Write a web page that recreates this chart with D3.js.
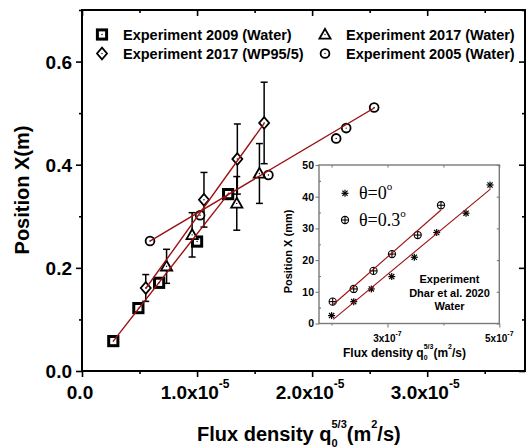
<!DOCTYPE html>
<html><head><meta charset="utf-8">
<script src="https://cdn.jsdelivr.net/npm/d3@7"></script>
<style>
html,body{margin:0;padding:0;background:#fff;}
svg{display:block;}
text{font-family:"Liberation Sans",Arial,sans-serif;font-weight:bold;fill:#000;}
</style></head>
<body><svg id="c" width="527" height="448"></svg>
<script>
// ---------- DATA (main chart, x in units of 1e-5 m^2/s, y in m) ----------
const sq2009X = [0.272, 0.49, 0.67, 1.0, 1.27];
const sq2009Y = [0.058, 0.122, 0.171, 0.251, 0.343];

const dm2017X = [0.554, 1.06, 1.35, 1.583];
const dm2017Y = [0.161, 0.332, 0.411, 0.481];
const dm2017Err = [0.026, 0.053, 0.068, 0.079];

const tr2017X = [0.735, 0.957, 1.345, 1.542];
const tr2017Y = [0.203, 0.264, 0.325, 0.383];
const tr2017Err = [0.033, 0.043, 0.052, 0.058];

const ci2005X = [0.591, 1.026, 1.62, 2.209, 2.296, 2.539];
const ci2005Y = [0.252, 0.302, 0.380, 0.451, 0.471, 0.511];

// fitted lines (end points)
const fitWaterX = [0.272, 1.28];  const fitWaterY = [0.058, 0.346];
const fitWPX = [0.554, 1.583];    const fitWPY = [0.160, 0.480];
const fit2005X = [0.591, 2.539];  const fit2005Y = [0.252, 0.510];

const legendLabels = ["Experiment 2009 (Water)", "Experiment 2017 (WP95/5)", "Experiment 2017 (Water)", "Experiment 2005 (Water)"];

const xMajor = [0, 1, 2, 3];
const xMajorLabels = ["0.0", "1.0x10", "2.0x10", "3.0x10"];
const xMajorExp = ["", "-5", "-5", "-5"];
const xMinor = [0.5, 1.5, 2.5, 3.5];
const yMajor = [0, 0.2, 0.4, 0.6];
const yMajorLabels = ["0.0", "0.2", "0.4", "0.6"];
const yMinor = [0.1, 0.3, 0.5, 0.7];

// ---------- DATA (inset, x in units of 1e-7 m^2/s, y in mm) ----------
const star0X = [2.0, 2.396, 2.711, 3.076, 3.48, 3.88, 4.405, 4.834];
const star0Y = [2.5, 6.9, 10.9, 14.8, 20.9, 28.7, 34.8, 43.7];
const circ03X = [2.02, 2.396, 2.75, 3.08, 3.54, 3.957];
const circ03Y = [6.9, 10.9, 16.6, 21.9, 27.9, 37.3];
const fitStarX = [2.03, 4.84];  const fitStarY = [1.3, 42.4];
const fitCircX = [2.03, 3.957]; const fitCircY = [6.0, 35.8];

const insetXMajor = [3, 5];
const insetXMajorLabels = ["3x10", "5x10"];
const insetXExp = ["-7", "-7"];
const insetXMinor = [2, 4];
const insetYMajor = [0, 10, 20, 30, 40, 50];
const insetYMinor = [5, 15, 25, 35, 45];
const insetNote = ["Experiment", "Dhar et al. 2020", "Water"];

// ---------- DRAW ----------
const svg = d3.select("#c");
const RED = "#9a1010";

const x = d3.scaleLinear().domain([0, 3.85]).range([82, 525]);
const y = d3.scaleLinear().domain([0, 0.7]).range([371, 10]);

// ticks
function tickAxis(axis, scale, vals, size, transform) {
  const g = svg.append("g").attr("transform", transform)
    .call(axis(scale).tickValues(vals).tickSize(size).tickFormat("").tickSizeOuter(0));
  g.select(".domain").remove();
  g.selectAll("line").attr("stroke", "#000").attr("stroke-width", 1.6);
  return g;
}
// bottom: outward
tickAxis(d3.axisBottom, x, xMajor, 6, "translate(0,371)");
tickAxis(d3.axisBottom, x, xMinor, 3, "translate(0,371)");
// top: inward
tickAxis(d3.axisBottom, x, xMajor, 6, "translate(0,10)");
tickAxis(d3.axisBottom, x, xMinor, 3, "translate(0,10)");
// left: outward
tickAxis(d3.axisLeft, y, yMajor, 6, "translate(82,0)");
tickAxis(d3.axisLeft, y, yMinor, 3, "translate(82,0)");
// right: inward
tickAxis(d3.axisLeft, y, yMajor, 6, "translate(525,0)");
tickAxis(d3.axisLeft, y, yMinor, 3, "translate(525,0)");

// frame
svg.append("rect").attr("x", x(0)).attr("y", y(0.7))
  .attr("width", x(3.85) - x(0)).attr("height", y(0) - y(0.7))
  .attr("fill", "none").attr("stroke", "#000").attr("stroke-width", 2);

// tick labels
xMajor.forEach((v, i) => {
  const t = svg.append("text").attr("x", x(v) - 2).attr("y", 399)
    .attr("text-anchor", "middle").style("font-size", "19px").text(xMajorLabels[i]);
  if (xMajorExp[i]) t.append("tspan").attr("dy", -11).style("font-size", "12px").text(xMajorExp[i]);
});
yMajor.forEach((v, i) => {
  svg.append("text").attr("x", 72).attr("y", y(v) + 7)
    .attr("text-anchor", "end").style("font-size", "19px").text(yMajorLabels[i]);
});

// axis titles
svg.append("text").attr("transform", "translate(29,190) rotate(-90)")
  .attr("text-anchor", "middle").style("font-size", "20px").text("Position X(m)");
const xt = svg.append("text").attr("x", 197).attr("y", 441).style("font-size", "20px");
xt.append("tspan").text("Flux density q");
xt.append("tspan").attr("dy", 6).style("font-size", "11px").text("0");
xt.append("tspan").attr("dx", -6.1).attr("dy", -19).style("font-size", "11px").text("5/3");
xt.append("tspan").attr("dy", 13).text("(m");
xt.append("tspan").attr("dy", -13).style("font-size", "11px").text("2");
xt.append("tspan").attr("dy", 13).text("/s)");

// markers
function marker(g, type, cx, cy) {
  const m = g.append("g").attr("transform", `translate(${cx},${cy})`);
  if (type === "square") {
    m.append("rect").attr("x", -4.6).attr("y", -4.6).attr("width", 9.2).attr("height", 9.2)
      .attr("fill", "#fff").attr("stroke", "#000").attr("stroke-width", 3);
  } else if (type === "diamond") {
    m.append("path").attr("d", "M0,-5.8L5,0L0,5.8L-5,0Z")
      .attr("fill", "#fff").attr("stroke", "#000").attr("stroke-width", 1.8);
  } else if (type === "triangle") {
    m.append("path").attr("d", "M0,-5.6L5.6,4.2L-5.6,4.2Z")
      .attr("fill", "#fff").attr("stroke", "#000").attr("stroke-width", 1.8);
  } else if (type === "circle") {
    m.append("circle").attr("r", 4.4)
      .attr("fill", "#fff").attr("stroke", "#000").attr("stroke-width", 1.8);
  }
  m.append("circle").attr("r", 0.7).attr("fill", "#000");
}
function errBars(xs, ys, es) {
  xs.forEach((v, i) => {
    const cx = x(v), y1 = y(ys[i] + es[i]), y2 = y(ys[i] - es[i]);
    const g = svg.append("g").attr("stroke", "#000").attr("stroke-width", 1.5);
    g.append("line").attr("x1", cx).attr("x2", cx).attr("y1", y1).attr("y2", y2);
    g.append("line").attr("x1", cx - 3.5).attr("x2", cx + 3.5).attr("y1", y1).attr("y2", y1);
    g.append("line").attr("x1", cx - 3.5).attr("x2", cx + 3.5).attr("y1", y2).attr("y2", y2);
  });
}
errBars(dm2017X, dm2017Y, dm2017Err);
errBars(tr2017X, tr2017Y, tr2017Err);

const mg = svg.append("g");
ci2005X.forEach((v, i) => marker(mg, "circle", x(v), y(ci2005Y[i])));
sq2009X.forEach((v, i) => marker(mg, "square", x(v), y(sq2009Y[i])));
tr2017X.forEach((v, i) => marker(mg, "triangle", x(v), y(tr2017Y[i])));
dm2017X.forEach((v, i) => marker(mg, "diamond", x(v), y(dm2017Y[i])));

// fit lines
function fitLine(xs, ys, sx, sy, w) {
  svg.append("path").datum(xs.map((v, i) => [v, ys[i]]))
    .attr("d", d3.line().x(d => sx(d[0])).y(d => sy(d[1])))
    .attr("fill", "none").attr("stroke", RED).attr("stroke-width", w);
}
fitLine(fitWaterX, fitWaterY, x, y, 1.4);
fitLine(fitWPX, fitWPY, x, y, 1.4);
fitLine(fit2005X, fit2005Y, x, y, 1.4);

// legend
const lg = svg.append("g");
const legPos = [[102, 34.5, "square"], [102, 53.5, "diamond"], [325, 34.5, "triangle"], [325, 53.5, "circle"]];
legendLabels.forEach((lab, i) => {
  const [lx, ly, tp] = legPos[i];
  marker(lg, tp, lx, ly);
  lg.append("text").attr("x", lx + 21).attr("y", ly + 5).style("font-size", "14.5px").text(lab);
});

// ---------- INSET ----------
const ix = d3.scaleLinear().domain([1.775, 5.0]).range([319, 499.3]);
const iy = d3.scaleLinear().domain([0, 50]).range([323.5, 165]);
const GRAY = "#7a7a7a";
svg.append("rect").attr("x", ix(1.775)).attr("y", iy(50)).attr("width", ix(5) - ix(1.775))
  .attr("height", iy(0) - iy(50)).attr("fill", "#fff");

function iTick(axis, scale, vals, size, transform) {
  const g = svg.append("g").attr("transform", transform)
    .call(axis(scale).tickValues(vals).tickSize(size).tickFormat("").tickSizeOuter(0));
  g.select(".domain").remove();
  g.selectAll("line").attr("stroke", GRAY).attr("stroke-width", 1.1);
}
iTick(d3.axisBottom, ix, insetXMajor, 4, "translate(0,323.5)");
iTick(d3.axisBottom, ix, insetXMinor, 2, "translate(0,323.5)");
iTick(d3.axisBottom, ix, insetXMajor.concat(insetXMinor), 2.5, "translate(0,165)");
iTick(d3.axisLeft, iy, insetYMajor, 3.5, "translate(319,0)");
iTick(d3.axisRight, iy, insetYMinor, 2, "translate(319,0)");
iTick(d3.axisLeft, iy, insetYMajor, 2.5, "translate(499.3,0)");

svg.append("rect").attr("x", ix(1.775)).attr("y", iy(50)).attr("width", ix(5) - ix(1.775))
  .attr("height", iy(0) - iy(50)).attr("fill", "none").attr("stroke", GRAY).attr("stroke-width", 1.4);

insetYMajor.forEach(v => {
  svg.append("text").attr("x", 314).attr("y", iy(v) + 3.8).attr("text-anchor", "end")
    .style("font-size", "10.5px").text(v);
});
insetXMajor.forEach((v, i) => {
  const t = svg.append("text").attr("x", ix(v)).attr("y", 341.5).attr("text-anchor", "middle")
    .style("font-size", "10px").text(insetXMajorLabels[i]);
  t.append("tspan").attr("dy", -6).style("font-size", "7px").text(insetXExp[i]);
});
svg.append("text").attr("transform", "translate(292,251.5) rotate(-90)")
  .attr("text-anchor", "middle").style("font-size", "11px").text("Position X (mm)");
const it = svg.append("text").attr("x", 343).attr("y", 356.5).style("font-size", "12px");
it.append("tspan").text("Flux density q");
it.append("tspan").attr("dy", 3.5).style("font-size", "7px").text("0");
it.append("tspan").attr("dx", -3.9).attr("dy", -11.5).style("font-size", "7px").text("5/3");
it.append("tspan").attr("dy", 8).text("(m");
it.append("tspan").attr("dy", -8).style("font-size", "7px").text("2");
it.append("tspan").attr("dy", 8).text("/s)");

// inset markers
function star(g, cx, cy) {
  const s = g.append("g").attr("transform", `translate(${cx},${cy})`)
    .attr("stroke", "#000").attr("stroke-width", 1.2);
  [[-3.5, 0, 3.5, 0], [0, -3.5, 0, 3.5], [-2.6, -2.6, 2.6, 2.6], [-2.6, 2.6, 2.6, -2.6]].forEach(l =>
    s.append("line").attr("x1", l[0]).attr("y1", l[1]).attr("x2", l[2]).attr("y2", l[3]));
}
function cross(g, cx, cy) {
  const s = g.append("g").attr("transform", `translate(${cx},${cy})`)
    .attr("stroke", "#000").attr("stroke-width", 1.1);
  s.append("circle").attr("r", 3.6).attr("fill", "#fff");
  s.append("line").attr("x1", -3.6).attr("x2", 3.6).attr("y1", 0).attr("y2", 0);
  s.append("line").attr("x1", 0).attr("x2", 0).attr("y1", -3.6).attr("y2", 3.6);
}
const ig = svg.append("g");
star0X.forEach((v, i) => star(ig, ix(v), iy(star0Y[i])));
circ03X.forEach((v, i) => cross(ig, ix(v), iy(circ03Y[i])));
fitLine(fitStarX, fitStarY, ix, iy, 1.1);
fitLine(fitCircX, fitCircY, ix, iy, 1.1);

// inset legend
star(ig, 345, 193.3);
cross(ig, 345, 220);
[["θ=0", 199], ["θ=0.3", 226]].forEach(([s, yy]) => {
  const t = svg.append("text").attr("x", 359).attr("y", yy)
    .style("font-family", "'Liberation Serif','Times New Roman',serif").style("font-weight", "normal")
    .style("font-size", "18px").text(s);
  t.append("tspan").attr("dy", -9).style("font-size", "11px").text("o");
});

insetNote.forEach((s, i) => {
  svg.append("text").attr("x", 449.5).attr("y", 283 + i * 13.7).attr("text-anchor", "middle")
    .style("font-size", "11px").text(s);
});
</script></body></html>
